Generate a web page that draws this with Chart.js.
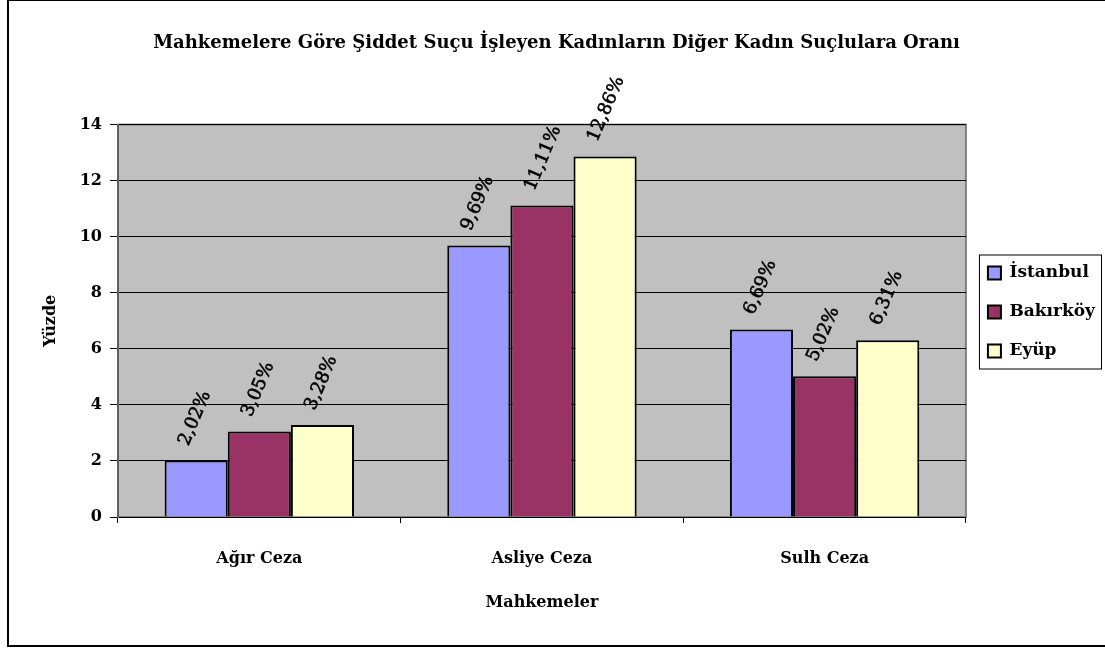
<!DOCTYPE html>
<html>
<head>
<meta charset="utf-8">
<script src="https://cdn.jsdelivr.net/npm/chart.js@4/dist/chart.umd.min.js"></script>
<style>
  body { margin: 0; background: #fff; }
  #wrap { width: 1105px; height: 650px; }
</style>
</head>
<body>
<div id="wrap"><canvas id="chart" width="1105" height="650"></canvas></div>
<script>
const categories = ['Ağır Ceza', 'Asliye Ceza', 'Sulh Ceza'];
const seriesNames = ['İstanbul', 'Bakırköy', 'Eyüp'];
const istanbulValues = [2.02, 9.69, 6.69];
const bakirkoyValues = [3.05, 11.11, 5.02];
const eyupValues = [3.28, 12.86, 6.31];
const yTicks = [0, 2, 4, 6, 8, 10, 12, 14];

const FONT = '"DejaVu Serif", serif';

// gray plot area + outer frame
const plotBackground = {
  id: 'plotBackground',
  beforeDraw(chart) {
    const { ctx, chartArea: a } = chart;
    ctx.save();
    ctx.fillStyle = '#fff';
    ctx.fillRect(0, 0, chart.width, chart.height);
    ctx.strokeStyle = '#000';
    ctx.lineWidth = 2;
    ctx.strokeRect(8, 0, chart.width + 10, 646);
    ctx.fillStyle = '#c0c0c0';
    ctx.fillRect(a.left, a.top, a.right - a.left, a.bottom - a.top);
    ctx.strokeStyle = '#808080';
    ctx.strokeRect(a.left, a.top, a.right - a.left, a.bottom - a.top);
    ctx.restore();
  }
};

// move the legend up a little (it sits above the middle of the plot)
const legendShift = {
  id: 'legendShift',
  afterLayout(chart) {
    chart.legend.bottom -= 18;
  }
};

// rotated value labels above each bar
const barLabels = {
  id: 'barLabels',
  afterDatasetsDraw(chart) {
    const ctx = chart.ctx;
    ctx.save();
    ctx.font = '18px ' + FONT;
    ctx.fillStyle = '#000';
    ctx.strokeStyle = '#000';
    ctx.lineWidth = 0.6;
    ctx.textAlign = 'left';
    ctx.textBaseline = 'alphabetic';
    chart.data.datasets.forEach((ds, i) => {
      chart.getDatasetMeta(i).data.forEach((bar, j) => {
        const txt = ds.data[j].toFixed(2).replace('.', ',') + '%';
        ctx.save();
        ctx.translate(bar.x - 8, bar.y - 14);
        ctx.rotate(-67 * Math.PI / 180);
        ctx.fillText(txt, 0, 0);
        ctx.strokeText(txt, 0, 0);
        ctx.restore();
      });
    });
    ctx.restore();
  }
};

// frame around the legend
const legendBorder = {
  id: 'legendBorder',
  afterDraw(chart) {
    const boxes = chart.legend.legendHitBoxes;
    if (!boxes || !boxes.length) return;
    const minX = Math.min(...boxes.map(b => b.left));
    const maxX = Math.max(...boxes.map(b => b.left + b.width));
    const minY = Math.min(...boxes.map(b => b.top));
    const maxY = Math.max(...boxes.map(b => b.top + b.height));
    const ctx = chart.ctx;
    ctx.save();
    ctx.strokeStyle = '#000';
    ctx.lineWidth = 1;
    ctx.strokeRect(minX - 8.5, minY - 9.5, maxX - minX + 15, maxY - minY + 19);
    ctx.restore();
  }
};

const colors = ['#9999ff', '#993366', '#ffffcc'];
const allValues = [istanbulValues, bakirkoyValues, eyupValues];

new Chart(document.getElementById('chart'), {
  type: 'bar',
  data: {
    labels: categories,
    datasets: seriesNames.map((name, i) => ({
      label: name,
      data: allValues[i],
      backgroundColor: colors[i],
      borderColor: '#000',
      borderWidth: 2,
      categoryPercentage: 0.67,
      barPercentage: 1.0
    }))
  },
  options: {
    responsive: false,
    animation: false,
    devicePixelRatio: 1,
    layout: { padding: { left: 8, right: 0, top: 0, bottom: 8 } },
    plugins: {
      title: {
        display: true,
        text: 'Mahkemelere Göre Şiddet Suçu İşleyen Kadınların Diğer Kadın Suçlulara Oranı',
        color: '#000',
        font: { family: FONT, size: 18, weight: 'bold' },
        padding: { top: 33, bottom: 70 }
      },
      legend: {
        position: 'right',
        labels: {
          color: '#000',
          boxWidth: 13,
          boxHeight: 13,
          padding: 22,
          font: { family: FONT, size: 17, weight: 'bold' }
        }
      },
      tooltip: { enabled: false }
    },
    scales: {
      x: {
        grid: { drawOnChartArea: false, color: '#000', tickLength: 6 },
        border: { color: '#000', width: 1 },
        ticks: { color: '#000', padding: 26, font: { family: FONT, size: 16, weight: 'bold' } },
        title: {
          display: true, text: 'Mahkemeler', color: '#000',
          font: { family: FONT, size: 16, weight: 'bold' },
          padding: { top: 0, bottom: 30 }
        },
        afterFit(scale) { scale.height = 125; }
      },
      y: {
        min: 0,
        max: 14,
        afterBuildTicks(scale) { scale.ticks = yTicks.map(v => ({ value: v })); },
        grid: { color: '#000', tickLength: 8 },
        border: { color: '#606060', width: 2 },
        ticks: { color: '#000', padding: 8, font: { family: FONT, size: 16, weight: 'bold' } },
        title: {
          display: true, text: 'Yüzde', color: '#000',
          font: { family: FONT, size: 16, weight: 'bold' },
          padding: { top: 33, bottom: 0 }
        },
        afterFit(scale) { scale.width = 110; }
      }
    }
  },
  plugins: [plotBackground, legendShift, barLabels, legendBorder]
});
</script>
</body>
</html>
